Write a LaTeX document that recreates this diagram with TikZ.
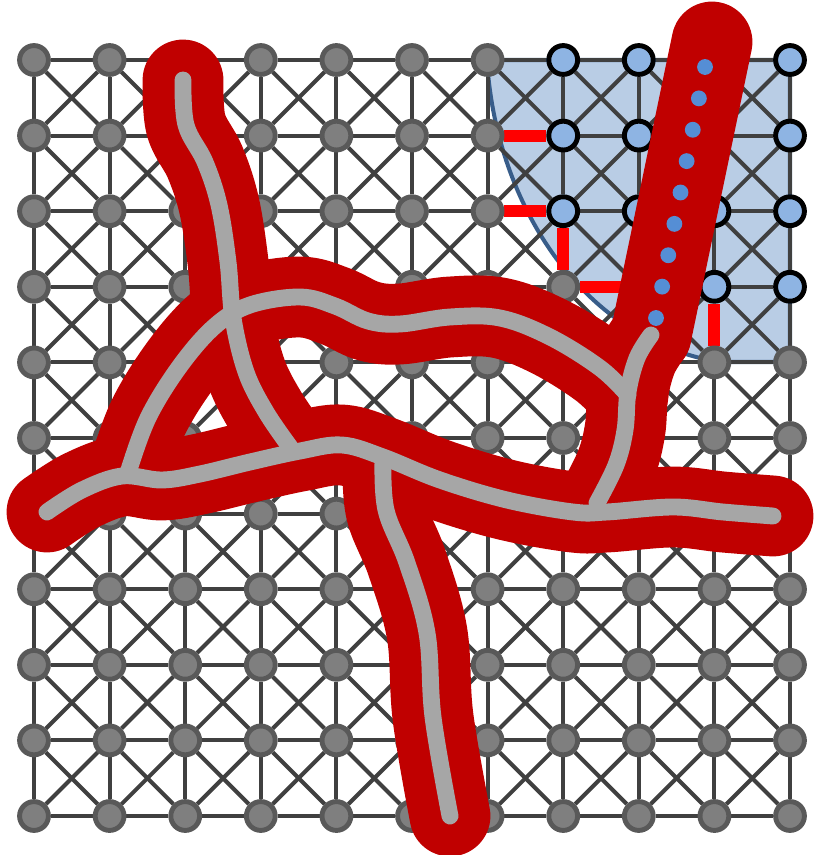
\documentclass[tikz,border=0pt]{standalone}
\usetikzlibrary{backgrounds}
\definecolor{vatrood}{HTML}{C00000}
\definecolor{asgrijs}{HTML}{A6A6A6}
\definecolor{knoopgrijs}{HTML}{7F7F7F}
\definecolor{knooprand}{HTML}{595959}
\definecolor{knoopblauw}{HTML}{8EB4E3}
\definecolor{lijngrijs}{HTML}{404040}
\definecolor{gebiedblauw}{HTML}{B9CDE5}
\definecolor{gebiedrand}{HTML}{385D8A}
\definecolor{stipblauw}{HTML}{558ED5}
\begin{document}
\begin{tikzpicture}[x=0.02cm, y=-0.02cm]
    \useasboundingbox (0,0) rectangle (827,855);

    % Stijlen
    \tikzset{
        knoop/.style={circle, inner sep=0pt, minimum size=16.4pt, line width=2.8pt, draw=knooprand, fill=knoopgrijs},
        blauweknoop/.style={knoop, draw=black, fill=knoopblauw},
        lijn/.style={line width=2.3pt, draw=lijngrijs},
        rodelijn/.style={line width=6.8pt, draw=red},
        vat/.style={line width=46pt, draw=vatrood, line cap=round, line join=round},
        hartlijn/.style={line width=9.6pt, draw=asgrijs, line cap=round, line join=round}
    }

    % Knopen
    \foreach \i in {0,...,10}
        \foreach \j in {0,...,10} {
            \pgfmathtruncatemacro\blauw{(\i>6)*(\j<3)+(\i>7)*(\j==3)}
            \ifnum\blauw>0
                \node[blauweknoop] (n-\i-\j) at ({34+75.6*\i},{60+75.6*\j}) {};
            \else
                \node[knoop] (n-\i-\j) at ({34+75.6*\i},{60+75.6*\j}) {};
            \fi
        }

    \begin{scope}[on background layer]
        % Gebied
        \filldraw[fill=gebiedblauw, draw=gebiedrand, line width=2.3pt]
            (487,60) -- (790,60) -- (790,362) -- (720,362)
            .. controls (580,340) and (495,200) .. (487,60) -- cycle;

        % Rooster
        \foreach \i [count=\ii] in {0,...,9}
            \foreach \j in {0,...,10} {
                \draw[lijn] (n-\i-\j) -- (n-\ii-\j);
                \draw[lijn] (n-\j-\i) -- (n-\j-\ii);
            }
        \foreach \i [count=\ii] in {0,...,9}
            \foreach \j [count=\jj] in {0,...,9} {
                \draw[lijn] (n-\i-\j) -- (n-\ii-\jj);
                \draw[lijn] (n-\ii-\j) -- (n-\i-\jj);
            }

        % Rode randen
        \draw[rodelijn] (n-6-1) -- (n-7-1);
        \draw[rodelijn] (n-6-2) -- (n-7-2);
        \draw[rodelijn] (n-7-2) -- (n-7-3);
        \draw[rodelijn] (n-7-3) -- (n-8-3);
        \draw[rodelijn] (n-9-3) -- (n-9-4);
    \end{scope}

    % Vaten
    \draw[vat] plot[smooth, tension=0.6] coordinates {(183,80) (186,125) (205,162) (219,205) (228,262) (233,318) (246,372) (266,412) (290,447)};
    \draw[vat] plot[smooth, tension=0.6] coordinates {(128,473) (148,418) (180,366) (215,326) (250,305) (300,297) (335,306) (368,321) (400,324) (450,317) (500,318) (550,337) (600,368) (628,395)};
    \draw[vat] plot[smooth, tension=0.6] coordinates {(47,512) (82,490) (122,476) (162,480) (200,474) (250,462) (300,451) (342,445) (383,457) (440,480) (507,500) (573,512) (607,512) (673,507) (723,512) (773,516)};
    \draw[vat] plot[smooth, tension=0.6] coordinates {(383,460) (386,510) (407,563) (427,633) (433,717) (450,816)};
    \draw[vat] (712,42) -- (651,335);
    \draw[vat] plot[smooth, tension=0.6] coordinates {(651,335) (637,358) (628,392) (625,430) (616,465) (597,503)};

    % Hartlijnen
    \draw[hartlijn] plot[smooth, tension=0.6] coordinates {(183,80) (186,125) (205,162) (219,205) (228,262) (233,318) (246,372) (266,412) (290,447)};
    \draw[hartlijn] plot[smooth, tension=0.6] coordinates {(128,473) (148,418) (180,366) (215,326) (250,305) (300,297) (335,306) (368,321) (400,324) (450,317) (500,318) (550,337) (600,368) (628,395)};
    \draw[hartlijn] plot[smooth, tension=0.6] coordinates {(47,512) (82,490) (122,476) (162,480) (200,474) (250,462) (300,451) (342,445) (383,457) (440,480) (507,500) (573,512) (607,512) (673,507) (723,512) (773,516)};
    \draw[hartlijn] plot[smooth, tension=0.6] coordinates {(383,460) (386,510) (407,563) (427,633) (433,717) (450,816)};
    \draw[hartlijn] plot[smooth, tension=0.6] coordinates {(651,335) (637,358) (628,392) (625,430) (616,465) (597,503)};

    % Stippen
    \foreach \k in {0,...,8}
        \fill[stipblauw] ({705-6.125*\k},{67+31.375*\k}) circle[radius=4.5pt];
\end{tikzpicture}
\end{document}
